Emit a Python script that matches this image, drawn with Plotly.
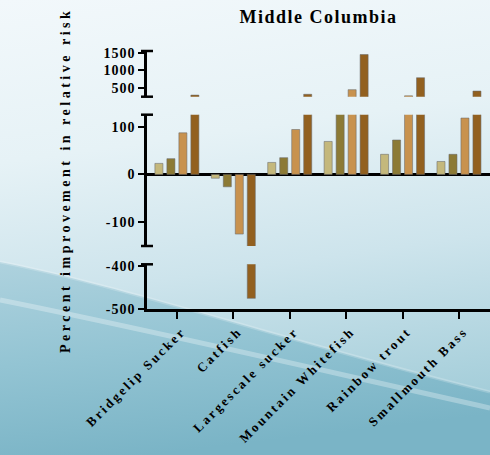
import base64
import plotly.graph_objects as go

# ---------------- data ----------------
categories = ["Bridgelip Sucker", "Catfish", "Largescale sucker",
              "Mountain Whitefish", "Rainbow trout", "Smallmouth Bass"]
series_1 = [23, -8, 25, 69, 42, 27]
series_2 = [33, -26, 35, 150, 72, 42]
series_3 = [87, -125, 94, 450, 275, 118]
series_4 = [295, -475, 318, 1450, 790, 410]
series_names = ["Series 1", "Series 2", "Series 3", "Series 4"]
series_colors = ["#c4b87c", "#8c7a35", "#c8924e", "#92601f"]

title_text = "Middle Columbia"
y_title = "Percent improvement in relative risk"

bottom_ticks = [-500, -400]
bottom_labels = ["-500", "-400"]
middle_ticks = [-100, 0, 100]
middle_labels = ["-100", "0", "100"]
top_ticks = [500, 1000, 1500]
top_labels = ["500", "1000", "1500"]

# ---------------- figure ----------------
W, H = 490, 455
ML, MR, MT, MB = 147, 0, 51, 146
PW, PH = W - ML - MR, H - MT - MB

serif = "Liberation Serif, Times New Roman, serif"

fig = go.Figure()
all_series = [series_1, series_2, series_3, series_4]
for yax in ["y", "y2", "y3"]:
    for name, vals, col in zip(series_names, all_series, series_colors):
        fig.add_trace(go.Bar(
            x=categories, y=vals, name=name, yaxis=yax, xaxis="x",
            marker=dict(color=col, line=dict(color="rgba(105,105,105,0.55)", width=1)),
            showlegend=False, hoverinfo="x+y",
        ))

axis_common = dict(
    showline=True, linecolor="black", linewidth=2.5,
    ticks="outside", ticklen=6, tickwidth=2, tickcolor="black",
    showgrid=False, anchor="x", automargin=False,
    tickfont=dict(family=serif, size=14, color="black", weight="bold"),
)

def dom(px_top, px_bot):
    base = H - MB
    lo = max(0.0, (base - px_bot) / PH)
    hi = min(1.0, (base - px_top) / PH)
    return [lo, hi]

fig.update_layout(
    width=W, height=H,
    margin=dict(l=ML, r=MR, t=MT, b=MB, pad=0),
    paper_bgcolor="#d6eaf0", plot_bgcolor="rgba(0,0,0,0)",
    barmode="group", bargap=0.15, bargroupgap=0.33,
    showlegend=False,
    title=dict(text=title_text, x=0.5, xref="paper", xanchor="center",
               y=1 - 17 / H, yref="container", yanchor="middle",
               font=dict(family=serif, size=18, color="black", weight="bold")),
    xaxis=dict(
        type="category", range=[-0.53, 5.55],
        showline=True, linecolor="black", linewidth=2.5,
        ticks="outside", ticklen=7, tickwidth=2, tickcolor="black",
        showgrid=False, anchor="y", tickangle=-45, automargin=False,
        ticklabelshift=5,
        tickfont=dict(family=serif, size=13, color="black", weight="bold"),
    ),
    yaxis=dict(domain=dom(264.3, 309), range=[-500, -395],
               tickvals=bottom_ticks, ticktext=bottom_labels,
               zeroline=False, **axis_common),
    yaxis2=dict(domain=dom(114.7, 246), range=[-150, 125],
                tickvals=middle_ticks, ticktext=middle_labels,
                zeroline=True, zerolinecolor="black", zerolinewidth=3,
                title=dict(text=y_title, standoff=36,
                           font=dict(family=serif, size=14, color="black", weight="bold")),
                **axis_common),
    yaxis3=dict(domain=dom(51, 96.7), range=[250, 1550],
                tickvals=top_ticks, ticktext=top_labels,
                zeroline=False, **axis_common),
)

# break caps on the y axis segments
cap = 6 / PW
shapes = []
for ref, yv in [("y3 domain", 1), ("y3 domain", 0), ("y2 domain", 1),
                ("y2 domain", 0), ("y domain", 1)]:
    shapes.append(dict(type="line", xref="paper", yref=ref, x0=-cap, x1=cap,
                       y0=yv, y1=yv, line=dict(color="black", width=2.5)))
fig.update_layout(shapes=shapes)

# background picture (gradient with a wave), as an inline SVG
bg_svg = f"""<svg xmlns='http://www.w3.org/2000/svg' width='{W}' height='{H}' viewBox='0 0 {W} {H}' preserveAspectRatio='none'>
<defs>
<linearGradient id='g' x1='0' y1='0' x2='0.15' y2='1'>
<stop offset='0' stop-color='#f2f8fb'/>
<stop offset='0.35' stop-color='#e6f2f6'/>
<stop offset='0.65' stop-color='#cde4ec'/>
<stop offset='1' stop-color='#a3cdd9'/>
</linearGradient>
<linearGradient id='d' x1='0' y1='0' x2='0.3' y2='1'>
<stop offset='0' stop-color='#aed2de'/>
<stop offset='0.5' stop-color='#93c4d3'/>
<stop offset='1' stop-color='#7ab4c6'/>
</linearGradient>
</defs>
<rect width='{W}' height='{H}' fill='url(#g)'/>
<path d='M0,262 C120,285 300,345 490,392 L490,455 L0,455 Z' fill='url(#d)'/>
<path d='M0,300 C150,330 320,370 490,408' fill='none' stroke='#ffffff' stroke-opacity='0.3' stroke-width='5'/>
<path d='M0,262 C120,285 300,345 490,392' fill='none' stroke='#ffffff' stroke-opacity='0.2' stroke-width='3'/>
</svg>"""
bg_uri = "data:image/svg+xml;base64," + base64.b64encode(bg_svg.encode()).decode()
fig.add_layout_image(dict(
    source=bg_uri, xref="paper", yref="paper",
    x=-ML / PW, y=(H - MB) / PH, sizex=W / PW, sizey=H / PH,
    xanchor="left", yanchor="top", sizing="stretch", layer="below", opacity=1,
))

post_js = """
document.body.style.margin = '0px';
document.body.style.overflow = 'hidden';
var gd = document.getElementById('{plot_id}');
function applySpacing(){
  function ls(sel, v){ gd.querySelectorAll(sel).forEach(function(e){ e.style.letterSpacing = v; }); }
  ls('.g-gtitle text', '1.5px');
  ls('.xtick text', '2.5px');
  ls('.ytick text, .y2tick text, .y3tick text', '1px');
  ls('.g-y2title text', '3.5px');
}
applySpacing();
if (gd.on) { gd.on('plotly_afterplot', applySpacing); }
"""

fig.write_html("out.html", post_script=post_js, config={"displayModeBar": False})
